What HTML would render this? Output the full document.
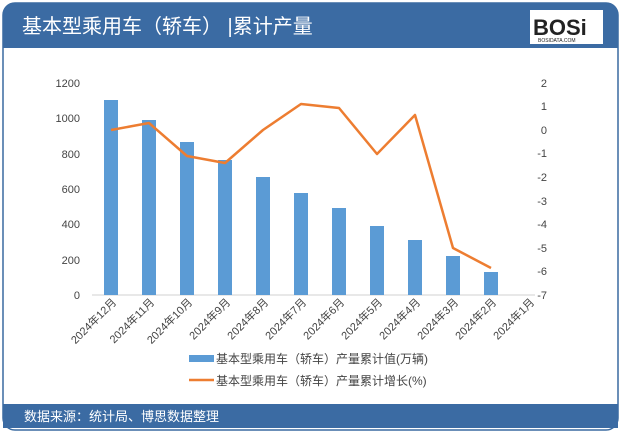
<!DOCTYPE html>
<html><head><meta charset="utf-8"><style>
body{margin:0;width:621px;height:433px;background:#fff;overflow:hidden;font-family:"Liberation Sans","Noto Sans CJK SC",sans-serif}
</style></head><body>
<svg width="621" height="433" xmlns="http://www.w3.org/2000/svg" style="position:absolute;left:0;top:0">
<rect x="3" y="3" width="615" height="427" rx="12" fill="#fff" stroke="#3a6aa0" stroke-width="1.5"/>
<path d="M3 48 V15 Q3 3 15 3 H606 Q618 3 618 15 V48 Z" fill="#3b6ba3"/>
<text x="22" y="33" font-size="20" fill="#fff" font-family="Liberation Sans,Noto Sans CJK SC,sans-serif">基本型乘用车（轿车） |累计产量</text>
<rect x="530" y="10" width="73" height="34" fill="#fff"/>
<text x="533" y="35" font-size="22" font-weight="bold" fill="#222">BOSi</text>
<text x="538" y="42" font-size="5" fill="#222">BOSIDATA.COM</text>
<rect x="3" y="404" width="615" height="24" fill="#3b6ba3"/>
<text x="24" y="421" font-size="13" fill="#fff">数据来源：统计局、博思数据整理</text>
<g font-size="11" fill="#444" text-anchor="end">
<text x="80" y="299">0</text><text x="80" y="264">200</text><text x="80" y="228">400</text><text x="80" y="193">600</text><text x="80" y="158">800</text><text x="80" y="122">1000</text><text x="80" y="87">1200</text>
</g>
<g font-size="11" fill="#444" text-anchor="end">
<text x="547" y="87">2</text><text x="547" y="110">1</text><text x="547" y="134">0</text><text x="547" y="157">-1</text><text x="547" y="181">-2</text><text x="547" y="205">-3</text><text x="547" y="228">-4</text><text x="547" y="252">-5</text><text x="547" y="275">-6</text><text x="547" y="299">-7</text>
</g>
<line x1="92" y1="295" x2="535" y2="295" stroke="#d0d0d0"/>
<g fill="#5b9bd5">
<rect x="104" y="100" width="14" height="195"/><rect x="142" y="120" width="14" height="175"/><rect x="180" y="142" width="14" height="153"/><rect x="218" y="160" width="14" height="135"/><rect x="256" y="177" width="14" height="118"/><rect x="294" y="193" width="14" height="102"/><rect x="332" y="208" width="14" height="87"/><rect x="370" y="226" width="14" height="69"/><rect x="408" y="240" width="14" height="55"/><rect x="446" y="256" width="14" height="39"/><rect x="484" y="272" width="14" height="23"/>
</g>
<polyline fill="none" stroke="#ed7d31" stroke-width="2.5" stroke-linejoin="round" points="111,130 149,123 187,156 225,163 263,130 301,104 339,108 377,154 415,115 453,248 491,268"/>
<g font-size="11" fill="#444" text-anchor="end">
<text transform="translate(117,303) rotate(-45)">2024年12月</text>
<text transform="translate(155,303) rotate(-45)">2024年11月</text>
<text transform="translate(193,303) rotate(-45)">2024年10月</text>
<text transform="translate(231,303) rotate(-45)">2024年9月</text>
<text transform="translate(269,303) rotate(-45)">2024年8月</text>
<text transform="translate(307,303) rotate(-45)">2024年7月</text>
<text transform="translate(345,303) rotate(-45)">2024年6月</text>
<text transform="translate(383,303) rotate(-45)">2024年5月</text>
<text transform="translate(421,303) rotate(-45)">2024年4月</text>
<text transform="translate(459,303) rotate(-45)">2024年3月</text>
<text transform="translate(497,303) rotate(-45)">2024年2月</text>
<text transform="translate(535,303) rotate(-45)">2024年1月</text>
</g>
<rect x="189" y="355" width="25" height="7" fill="#5b9bd5"/>
<text x="216" y="363" font-size="12" fill="#444">基本型乘用车（轿车）产量累计值(万辆)</text>
<line x1="189" y1="380" x2="214" y2="380" stroke="#ed7d31" stroke-width="2.5"/>
<text x="216" y="385" font-size="12" fill="#444">基本型乘用车（轿车）产量累计增长(%)</text>
</svg>
</body></html>
